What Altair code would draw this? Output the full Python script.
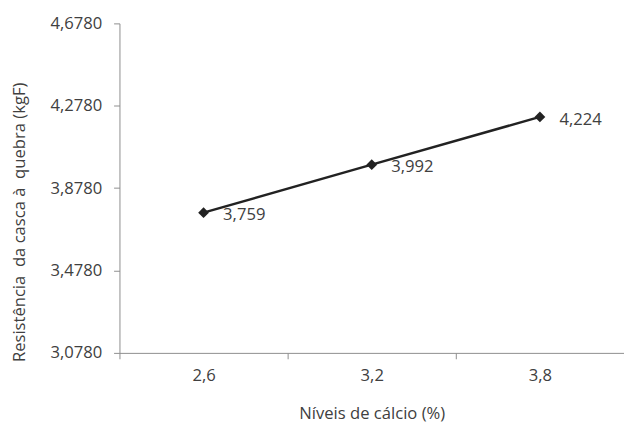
import altair as alt
import pandas as pd

niveis = ["2,6", "3,2", "3,8"]
resistencia = [3.759, 3.992, 4.224]
y_ticks = [3.078, 3.478, 3.878, 4.278, 4.678]

df = pd.DataFrame({"nivel": niveis, "valor": resistencia})

FONT = "Open Sans"
TXT = "#404040"
AX = "#8c8c8c"
FS = 17

x = alt.X(
    "nivel:O",
    sort=niveis,
    scale=alt.Scale(type="band", paddingInner=0, paddingOuter=0),
    axis=alt.Axis(
        title="Níveis de cálcio (%)",
        labelAngle=0,
        tickBand="extent",
        tickSize=6,
        labelPadding=9,
        titlePadding=23,
    ),
)
y = alt.Y(
    "valor:Q",
    scale=alt.Scale(domain=[y_ticks[0], y_ticks[-1]], nice=False, zero=False),
    axis=alt.Axis(
        title="Resistência\u00a0 da casca à\u00a0 quebra (kgF)",
        values=y_ticks,
        labelExpr="replace(format(datum.value, '.4f'), '.', ',')",
        tickSize=6,
        labelPadding=12,
        grid=False,
        titleX=-102,
        titleY=203,
        titleAngle=-90,
        titleAlign="center",
        titleBaseline="middle",
    ),
)

base = alt.Chart(df).encode(x=x, y=y)

line = base.mark_line(color="#222222", strokeWidth=2.5)
pts = base.mark_point(shape="diamond", filled=True, size=121, color="#222222", opacity=1)
labels = base.transform_calculate(
    lab="replace(format(datum.valor, '.3f'), '.', ',')"
).mark_text(
    align="left", baseline="middle", dx=20, dy=3, font=FONT, fontSize=FS, color=TXT
).encode(text="lab:N")

chart = (
    alt.layer(line, pts, labels)
    .properties(
        width=516,
        height=337,
        autosize=alt.AutoSizeParams(type="none"),
        padding={"left": 114, "top": 11, "right": 0, "bottom": 69},
    )
    .configure_view(stroke=None)
    .configure_axis(
        labelFont=FONT,
        titleFont=FONT,
        labelFontSize=FS,
        titleFontSize=FS,
        labelColor=TXT,
        titleColor=TXT,
        titleFontWeight="normal",
        domainColor=AX,
        tickColor=AX,
        domainWidth=1,
        tickWidth=1,
    )
)

chart.save("out.html", embed_options={"renderer": "svg", "actions": False})
